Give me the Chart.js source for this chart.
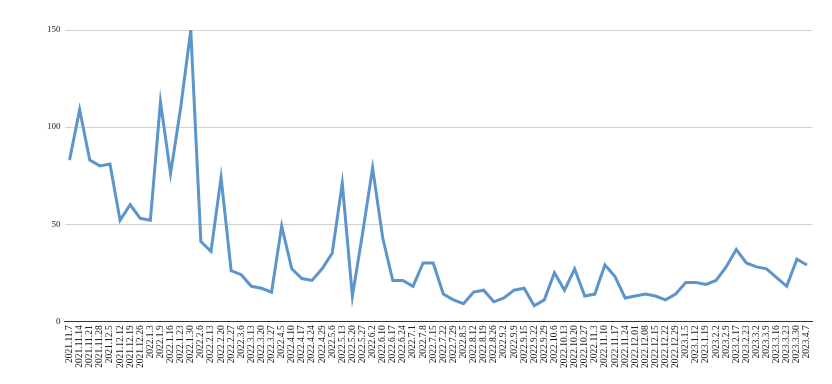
<!DOCTYPE html>
<html>
<head>
<meta charset="utf-8">
<script src="https://cdn.jsdelivr.net/npm/chart.js@4"></script>
<style>
html,body{margin:0;padding:0;background:#fff;}
#wrap{width:832px;height:384px;}
</style>
</head>
<body>
<div id="wrap"><canvas id="c" width="832" height="384"></canvas></div>
<script>
const categories = ["2021.11.7","2021.11.14","2021.11.21","2021.11.28","2021.12.5","2021.12.12","2021.12.19","2021.12.26","2022.1.3","2022.1.9","2022.1.16","2022.1.23","2022.1.30","2022.2.6","2022.2.13","2022.2.20","2022.2.27","2022.3.6","2022.3.13","2022.3.20","2022.3.27","2022.4.5","2022.4.10","2022.4.17","2022.4.24","2022.4.29","2022.5.6","2022.5.13","2022.5.20","2022.5.27","2022.6.2","2022.6.10","2022.6.17","2022.6.24","2022.7.1","2022.7.8","2022.7.15","2022.7.22","2022.7.29","2022.8.5","2022.8.12","2022.8.19","2022.8.26","2022.9.2","2022.9.9","2022.9.15","2022.9.22","2022.9.29","2022.10.6","2022.10.13","2022.10.20","2022.10.27","2022.11.3","2022.11.10","2022.11.17","2022.11.24","2022.12.01","2022.12.08","2022.12.15","2022.12.22","2022.12.29","2023.1.5","2023.1.12","2023.1.19","2023.2.2","2023.2.9","2023.2.17","2023.2.23","2023.3.2","2023.3.9","2023.3.16","2023.3.23","2023.3.30","2023.4.7"];
const values = [83,109,83,80,81,52,60,53,52,113,76,110,150,41,36,74,26,24,18,17,15,49,27,22,21,27,35,71,13,45,79,43,21,21,18,30,30,14,11,9,15,16,10,12,16,17,8,11,25,16,27,13,14,29,23,12,13,14,13,11,14,20,20,19,21,28,37,30,28,27,22.5,18,32,29];
const yTicks = [0,50,100,150];

new Chart(document.getElementById('c'), {
  type: 'line',
  data: {
    labels: categories,
    datasets: [{
      data: values,
      borderColor: '#5b95cc',
      borderWidth: 3,
      pointRadius: 0,
      tension: 0,
      fill: false
    }]
  },
  options: {
    responsive: false,
    animation: false,
    layout: { padding: { left: 43, right: 20, top: 30, bottom: 12 } },
    plugins: { legend: { display: false }, tooltip: { enabled: false } },
    scales: {
      x: {
        offset: true,
        grid: { display: false, drawTicks: false },
        border: { display: true, color: '#333333', width: 1 },
        ticks: {
          autoSkip: false, minRotation: 90, maxRotation: 90, padding: 4,
          color: '#222', font: { family: 'Liberation Serif', size: 9.5 }
        }
      },
      y: {
        min: 0, max: 150,
        afterBuildTicks: (axis) => { axis.ticks = yTicks.map(v => ({ value: v })); },
        grid: { color: '#d0d0d0', drawTicks: false },
        border: { display: false },
        ticks: { padding: 4, color: '#222', font: { family: 'Liberation Serif', size: 9 } }
      }
    }
  }
});
</script>
</body>
</html>
